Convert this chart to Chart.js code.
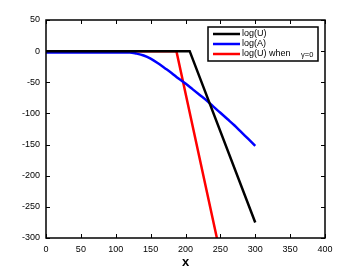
<!DOCTYPE html>
<html>
<head>
<meta charset="utf-8">
<script src="https://cdn.jsdelivr.net/npm/chart.js@4/dist/chart.umd.min.js"></script>
<style>
  html, body { margin: 0; padding: 0; background: #fff; }
  #wrap { width: 360px; height: 270px; }
</style>
</head>
<body>
<div id="wrap"><canvas id="chart" width="360" height="270"></canvas></div>
<script>
// --- DATA ---
const xTicks = [0, 50, 100, 150, 200, 250, 300, 350, 400];
const yTicks = [50, 0, -50, -100, -150, -200, -250, -300];

const logUx = [0, 206, 300];
const logUy = [0, 0, -275];

const logAx = [0, 120, 130, 140, 150, 160, 170, 180, 190, 200, 210, 220, 230, 240, 250, 260, 270, 280, 290, 300];
const logAy = [-2, -2, -4, -7, -12, -19, -27, -35, -44, -52, -61, -70, -79, -89, -99, -109, -119, -130, -141, -152];

const logU0x = [0, 187, 245];
const logU0y = [0, 0, -300];

const labels = ["log(U)", "log(A)", "log(U) when"];
const colors = ["#000000", "#0000ff", "#ff0000"];

const toPoints = (xs, ys) => xs.map((x, i) => ({ x: x, y: ys[i] }));

const FONT = "'Liberation Sans', Arial, sans-serif";

// --- PLUGIN: boxed frame with inward ticks + legend box ---
const framePlugin = {
  id: "frame",
  afterDraw(chart) {
    const ctx = chart.ctx;
    const a = chart.chartArea;
    const xs = chart.scales.x;
    const ys = chart.scales.y;
    ctx.save();
    ctx.strokeStyle = "#000";
    ctx.lineWidth = 1;
    // inward ticks on all four sides
    ctx.beginPath();
    xTicks.forEach((v) => {
      const px = Math.round(xs.getPixelForValue(v)) + 0.5;
      ctx.moveTo(px, a.bottom); ctx.lineTo(px, a.bottom - 4);
      ctx.moveTo(px, a.top); ctx.lineTo(px, a.top + 4);
    });
    yTicks.forEach((v) => {
      const py = Math.round(ys.getPixelForValue(v)) + 0.5;
      ctx.moveTo(a.left, py); ctx.lineTo(a.left + 4, py);
      ctx.moveTo(a.right, py); ctx.lineTo(a.right - 4, py);
    });
    ctx.stroke();
    // frame
    ctx.lineWidth = 1.5;
    ctx.strokeRect(a.left, a.top, a.right - a.left, a.bottom - a.top);

    // legend box (top right, inside the plot)
    const bx = 208, by = 27, bw = 110, bh = 34;
    ctx.fillStyle = "#fff";
    ctx.fillRect(bx, by, bw, bh);
    ctx.lineWidth = 1.5;
    ctx.strokeStyle = "#000";
    ctx.strokeRect(bx, by, bw, bh);
    ctx.font = "9px " + FONT;
    ctx.textBaseline = "middle";
    labels.forEach((lab, i) => {
      const ly = by + 7 + i * 10;
      ctx.strokeStyle = colors[i];
      ctx.lineWidth = 2.5;
      ctx.beginPath();
      ctx.moveTo(bx + 5, ly); ctx.lineTo(bx + 32, ly);
      ctx.stroke();
      ctx.fillStyle = "#000";
      ctx.fillText(lab, bx + 34, ly);
    });
    // small gamma annotation on the third entry
    ctx.font = "7.5px " + FONT;
    ctx.fillText("\u03b3=0", bx + 93, by + 8 + 20);
    ctx.restore();
  }
};

new Chart(document.getElementById("chart").getContext("2d"), {
  type: "line",
  data: {
    datasets: [
      { label: labels[0], data: toPoints(logUx, logUy), borderColor: colors[0] },
      { label: labels[1], data: toPoints(logAx, logAy), borderColor: colors[1], cubicInterpolationMode: "monotone" },
      { label: labels[2], data: toPoints(logU0x, logU0y), borderColor: colors[2] },
    ],
  },
  options: {
    responsive: false,
    animation: false,
    elements: {
      line: { borderWidth: 2.5, fill: false },
      point: { radius: 0 },
    },
    layout: { padding: { top: 20, right: 35, left: 0, bottom: 0 } },
    plugins: {
      legend: { display: false },
      tooltip: { enabled: false },
    },
    scales: {
      x: {
        type: "linear",
        min: 0,
        max: 400,
        grid: { display: false, drawTicks: false },
        border: { display: false },
        ticks: {
          stepSize: 50,
          color: "#000",
          padding: 6,
          font: { family: FONT, size: 9 },
        },
        title: {
          display: true,
          text: "x",
          color: "#000",
          padding: { top: 1, bottom: 0 },
          font: { family: FONT, size: 13, weight: "bold" },
        },
        afterFit: (scale) => { scale.height = 32; },
      },
      y: {
        type: "linear",
        min: -300,
        max: 50,
        grid: { display: false, drawTicks: false },
        border: { display: false },
        ticks: {
          stepSize: 50,
          color: "#000",
          padding: 6,
          font: { family: FONT, size: 9 },
        },
        afterFit: (scale) => { scale.width = 46; },
      },
    },
  },
  plugins: [framePlugin],
});
</script>
</body>
</html>
